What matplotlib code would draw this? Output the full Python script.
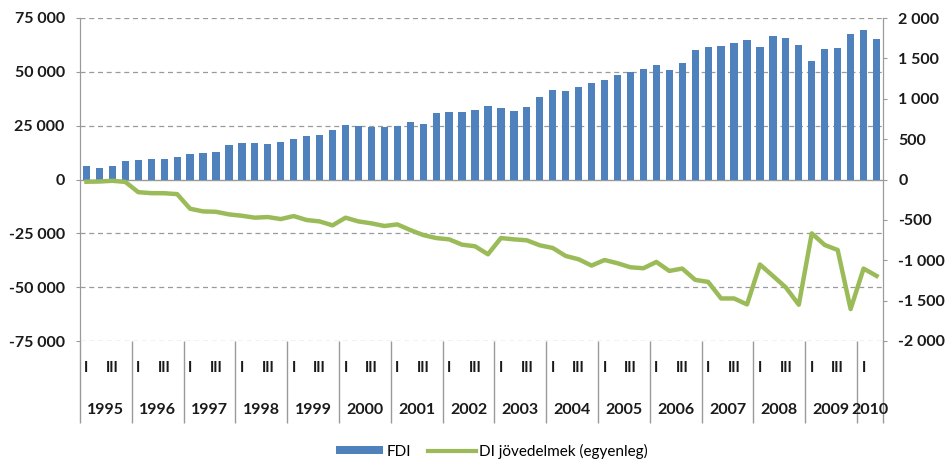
import numpy as np
import matplotlib
matplotlib.use("Agg")
import matplotlib.pyplot as plt
from matplotlib.ticker import FuncFormatter, MultipleLocator
from matplotlib.patches import Patch
from matplotlib.lines import Line2D

# ===========================
# DATA (quarterly, 1995 Q1 - 2010 Q2)
# ===========================
years = list(range(1995, 2011))
quarter_names = ["I", "", "III", ""]

fdi = [
    6500, 5400, 6200, 8500,        # 1995
    9100, 9600, 9600, 10500,       # 1996
    11700, 12200, 13000, 16000,    # 1997
    16800, 16800, 16500, 17400,    # 1998
    18700, 20000, 20500, 23000,    # 1999
    25100, 25000, 24400, 24400,    # 2000
    25000, 26900, 25600, 30900,    # 2001
    31300, 31300, 32300, 34300,    # 2002
    33000, 31800, 33900, 38300,    # 2003
    41400, 40900, 43100, 44800,    # 2004
    46200, 48300, 49900, 51400,    # 2005
    53100, 50900, 54000, 60300,    # 2006
    61700, 62200, 63400, 64700,    # 2007
    61700, 66500, 65600, 62600,    # 2008
    55100, 60800, 61300, 67700,    # 2009
    69600, 65300,                  # 2010
]

di_income = [
    -28, -25, -16, -30,
    -157, -169, -170, -181,
    -362, -395, -400, -432,
    -449, -473, -465, -490,
    -453, -502, -519, -568,
    -473, -519, -543, -576,
    -556, -626, -688, -725,
    -741, -807, -827, -926,
    -725, -741, -753, -815,
    -848, -947, -988, -1066,
    -997, -1037, -1087, -1099,
    -1021, -1132, -1103, -1243,
    -1268, -1473, -1473, -1547,
    -1053, -1194, -1337, -1551,
    -667, -811, -873, -1605,
    -1103, -1194,
]

# ===========================
# STYLE
# ===========================
plt.rcParams["font.family"] = ["Lato", "DejaVu Sans"]
BLUE = "#4F81BD"
GREEN = "#9BBB59"
GRID = "#9a9a9a"
TXT = "#1a1a1a"

n = len(fdi)
x = np.arange(n)

fig = plt.figure(figsize=(9.47, 4.62), dpi=100)
ax = fig.add_axes([80 / 947, 121 / 462, 803 / 947, 323 / 462])
ax2 = ax.twinx()

ax.bar(x, fdi, width=0.56, color=BLUE, zorder=3)
ax2.plot(x, di_income, color=GREEN, lw=3.2, solid_joinstyle="round", zorder=4)

ax.set_xlim(-0.5, n - 0.5)
ax.set_ylim(-75000, 75000)
ax2.set_ylim(-2000, 2000)

fmt = FuncFormatter(lambda v, p: f"{v:,.0f}".replace(",", " "))
ax.yaxis.set_major_locator(MultipleLocator(25000))
ax.yaxis.set_major_formatter(fmt)
ax2.yaxis.set_major_locator(MultipleLocator(500))
ax2.yaxis.set_major_formatter(fmt)

for a in (ax, ax2):
    a.tick_params(axis="y", length=3, color=GRID, pad=8, labelsize=11.5,
                  labelcolor=TXT)
    for s in ("top", "bottom"):
        a.spines[s].set_visible(False)
    a.spines["left"].set_color(GRID)
    a.spines["right"].set_color(GRID)
for lab in ax.get_yticklabels() + ax2.get_yticklabels():
    lab.set_fontweight("bold")

# dashed grid at left-axis ticks, solid zero line
for v in np.arange(-75000, 75001, 25000):
    if v == 0:
        ax.axhline(0, color=GRID, lw=1.0, zorder=2)
    else:
        ax.axhline(v, color=GRID, lw=0.9, ls=(0, (4, 3)), zorder=1)

# ===========================
# CATEGORY AXIS (quarters + years)
# ===========================
ax.set_xticks([])
trans = ax.get_xaxis_transform()
for i in range(n):
    q = quarter_names[i % 4]
    if q:
        ax.text(i, -0.083, q, transform=trans, ha="center", va="center",
                fontsize=10.5, fontweight="bold", color=TXT)

bounds = list(range(0, n, 4)) + [n]
for k, yr in enumerate(years):
    lo, hi = bounds[k] - 0.5, bounds[k + 1] - 0.5
    ax.text((lo + hi) / 2, -0.213, str(yr), transform=trans, ha="center",
            va="center", fontsize=11.5, fontweight="bold", color=TXT)
ax.vlines([b - 0.5 for b in bounds], -0.255, 0, transform=trans,
          colors=GRID, lw=1.0, clip_on=False)

# ===========================
# LEGEND
# ===========================
handles = [Patch(facecolor=BLUE, edgecolor="none"),
           Line2D([], [], color=GREEN, lw=3)]
fig.legend(handles, ["FDI", "DI jövedelmek (egyenleg)"], loc="center",
           bbox_to_anchor=(492 / 947, 1 - 451 / 462), ncol=2, frameon=False,
           fontsize=11, handlelength=3.1, handleheight=0.35,
           handletextpad=0.25, columnspacing=1.1)

plt.savefig("out.png", dpi=100)
